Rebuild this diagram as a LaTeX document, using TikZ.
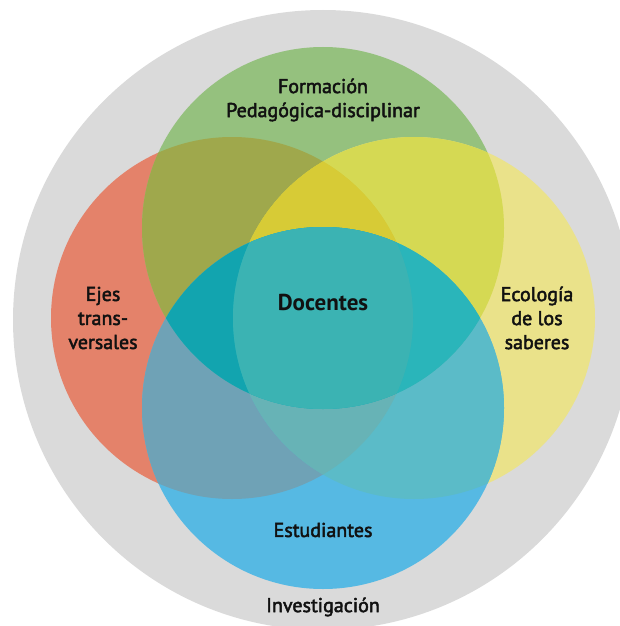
\documentclass[tikz,border=0pt]{standalone}
\usepackage{fontspec}
\setmainfont{PT Sans}
\newfontfamily\lblfont{PT Sans}[FakeBold=2.4]
\newfontfamily\docfont{PT Sans Bold}
\definecolor{cgray}{HTML}{DADADA}
\definecolor{cR}{HTML}{E4826A}
\definecolor{cG}{HTML}{95C17E}
\definecolor{cY}{HTML}{EAE28A}
\definecolor{cB}{HTML}{56B9E3}
\definecolor{cRG}{HTML}{9FA84C}
\definecolor{cGY}{HTML}{D5D953}
\definecolor{cRY}{HTML}{D7CB36}
\definecolor{cRB}{HTML}{6FA2B6}
\definecolor{cYB}{HTML}{5BBBC8}
\definecolor{cGB}{HTML}{3BB3B3}
\definecolor{cRGY}{HTML}{D7CB36}
\definecolor{cRBY}{HTML}{67B3B6}
\definecolor{cRGB}{HTML}{12A4AF}
\definecolor{cGYB}{HTML}{2AB5BA}
\definecolor{cRGYB}{HTML}{3BB3B3}
\definecolor{txt}{HTML}{111111}
\tikzset{
  lbl/.style={font=\lblfont\fontsize{20}{24}\selectfont, text=txt, align=center, inner sep=0pt},
  doclbl/.style={font=\docfont\fontsize{23}{24}\selectfont, text=txt, inner sep=0pt}
}
\newcommand{\rr}{181pt}
\begin{document}
\begin{tikzpicture}[x=1pt,y=-1pt]
\useasboundingbox (0,0) rectangle (620,626);
\clip (0,0) rectangle (620,626);
\coordinate (O) at (323,320);
\coordinate (R) at (232,318);
\coordinate (G) at (323,228);
\coordinate (Y) at (414,318);
\coordinate (B) at (323,408);
% outer circle
\fill[cgray] (O) circle (310pt);
% singles
\fill[cR] (R) circle (\rr);
\fill[cG] (G) circle (\rr);
\fill[cY] (Y) circle (\rr);
\fill[cB] (B) circle (\rr);
% pairs
\begin{scope}\clip (R) circle (\rr); \fill[cRG] (G) circle (\rr);\end{scope}
\begin{scope}\clip (G) circle (\rr); \fill[cGY] (Y) circle (\rr);\end{scope}
\begin{scope}\clip (R) circle (\rr); \fill[cRY] (Y) circle (\rr);\end{scope}
\begin{scope}\clip (R) circle (\rr); \fill[cRB] (B) circle (\rr);\end{scope}
\begin{scope}\clip (Y) circle (\rr); \fill[cYB] (B) circle (\rr);\end{scope}
\begin{scope}\clip (G) circle (\rr); \fill[cGB] (B) circle (\rr);\end{scope}
% triples
\begin{scope}\clip (R) circle (\rr); \clip (G) circle (\rr); \fill[cRGY] (Y) circle (\rr);\end{scope}
\begin{scope}\clip (R) circle (\rr); \clip (Y) circle (\rr); \fill[cRBY] (B) circle (\rr);\end{scope}
\begin{scope}\clip (R) circle (\rr); \clip (G) circle (\rr); \fill[cRGB] (B) circle (\rr);\end{scope}
\begin{scope}\clip (G) circle (\rr); \clip (Y) circle (\rr); \fill[cGYB] (B) circle (\rr);\end{scope}
% quadruple
\begin{scope}\clip (R) circle (\rr); \clip (G) circle (\rr); \clip (Y) circle (\rr); \fill[cRGYB] (B) circle (\rr);\end{scope}
% labels
\node[lbl] (form) at (323,100) {Formación\\Pedagógica-disciplinar};
\node[lbl] (ejes) at (103,318) {Ejes\\trans-\\versales};
\node[lbl] (eco) at (537,318) {Ecología\\de los\\saberes};
\node[doclbl] (doc) at (323,302) {Docentes};
\node[lbl] (est) at (323,530) {Estudiantes};
\node[lbl] (inv) at (323,607) {Investigación};
\end{tikzpicture}
\end{document}
